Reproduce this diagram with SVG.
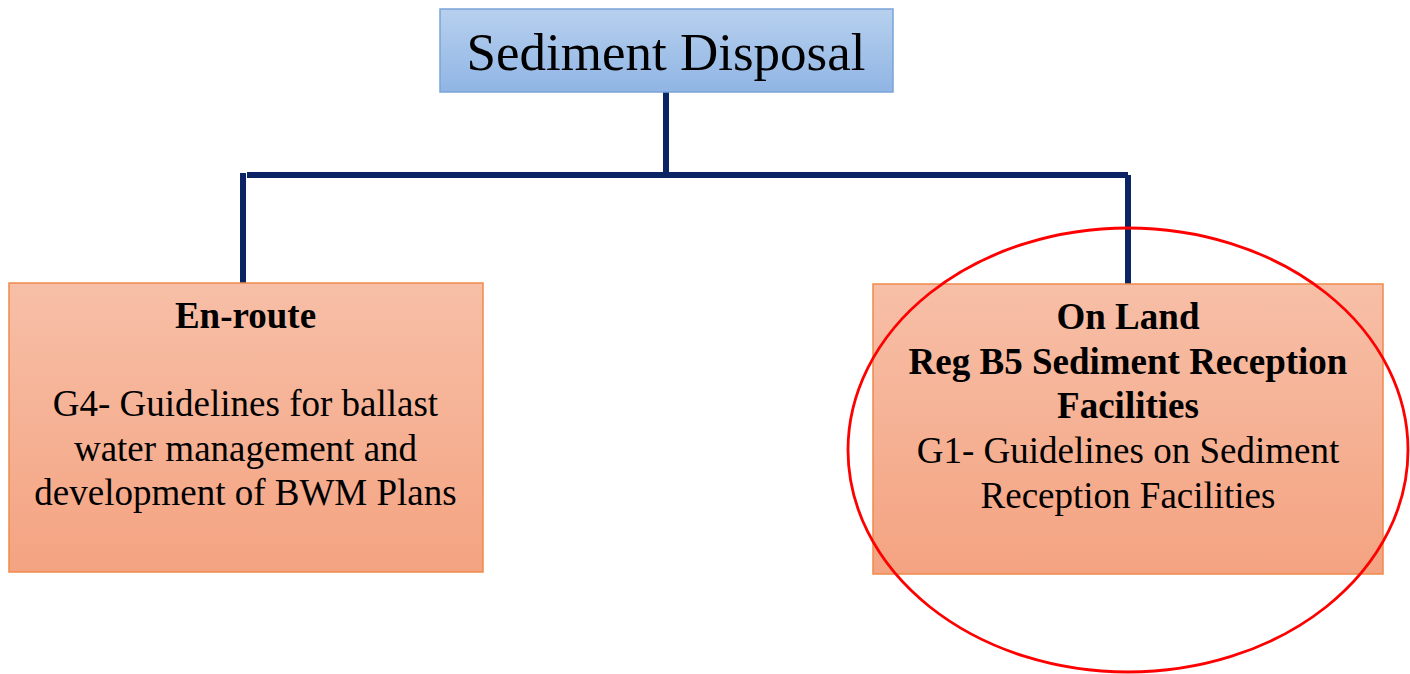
<svg xmlns="http://www.w3.org/2000/svg" width="1410" height="674" viewBox="0 0 1410 674">
<defs>
<linearGradient id="gBlue" x1="0" y1="0" x2="0" y2="1"><stop offset="0" stop-color="#B7D0EE"/><stop offset="1" stop-color="#90B5E4"/></linearGradient>
<linearGradient id="gOrange" x1="0" y1="0" x2="0" y2="1"><stop offset="0" stop-color="#F7BFA7"/><stop offset="1" stop-color="#F4A381"/></linearGradient>
<style>
.t{font-family:"Liberation Serif","Times New Roman",serif;fill:#000;text-anchor:middle}
.b{font-weight:bold}
.conn{stroke:#0B2463;stroke-width:6;fill:none}
.obox{fill:url(#gOrange);stroke:#F08A4B;stroke-width:1.5}
</style>
</defs>
<rect width="1410" height="674" fill="#fff"/>
<g id="connectors">
<line class="conn" x1="666" y1="92" x2="666" y2="172"/>
<line class="conn" x1="247" y1="175" x2="1128" y2="175"/>
<line class="conn" x1="243" y1="173" x2="243" y2="283"/>
<line class="conn" x1="1128" y1="175" x2="1128" y2="286"/>
</g>
<g id="sediment-disposal">
<rect x="440" y="9" width="453" height="83" fill="url(#gBlue)" stroke="#79A4D8" stroke-width="1.5"/>
<text class="t" x="666" y="70" font-size="53">Sediment Disposal</text>
</g>
<g id="en-route">
<rect class="obox" x="9" y="283" width="474" height="289"/>
<text class="t b" x="245.5" y="328" font-size="37">En-route</text>
<text class="t" x="245.5" y="416" font-size="37">G4- Guidelines for ballast</text>
<text class="t" x="245.5" y="461" font-size="37">water management and</text>
<text class="t" x="245.5" y="505" font-size="37">development of BWM Plans</text>
</g>
<g id="on-land">
<rect class="obox" x="873" y="284" width="510" height="290"/>
<text class="t b" x="1128" y="329" font-size="37">On Land</text>
<text class="t b" x="1128" y="374" font-size="37">Reg B5 Sediment Reception</text>
<text class="t b" x="1128" y="418" font-size="37">Facilities</text>
<text class="t" x="1128" y="463" font-size="37">G1- Guidelines on Sediment</text>
<text class="t" x="1128" y="508" font-size="37">Reception Facilities</text>
</g>
<g id="highlight">
<ellipse cx="1128" cy="450" rx="280" ry="222" fill="none" stroke="#FF0000" stroke-width="2.8"/>
</g>
</svg>
